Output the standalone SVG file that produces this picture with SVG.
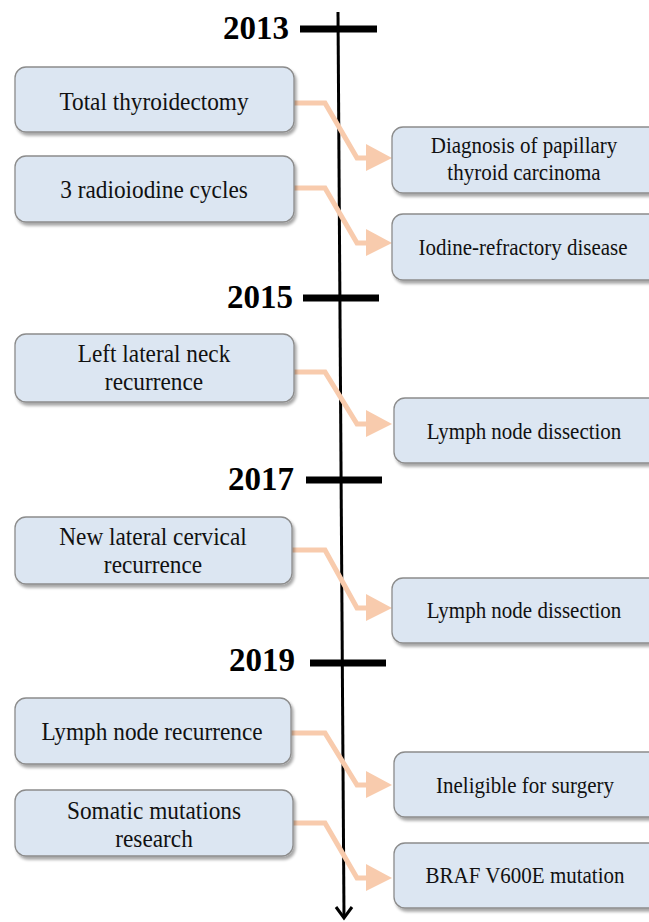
<svg xmlns="http://www.w3.org/2000/svg" width="649" height="922" viewBox="0 0 649 922">
<defs>
<filter id="sh" x="-10%" y="-10%" width="130%" height="140%">
<feGaussianBlur in="SourceAlpha" stdDeviation="1.5"/>
<feOffset dx="1.5" dy="2.5" result="b"/>
<feComponentTransfer><feFuncA type="linear" slope="0.35"/></feComponentTransfer>
<feMerge><feMergeNode/><feMergeNode in="SourceGraphic"/></feMerge>
</filter>
</defs>
<style>
.box{fill:#DCE6F2;stroke:#8C8C8C;stroke-width:1.3;filter:url(#sh)}
text.t{font-family:'Liberation Serif','Times New Roman',serif;font-size:23.3px;fill:#111;text-anchor:middle}
text.r{font-size:21px}
text.yr{font-family:'Liberation Serif','Times New Roman',serif;font-size:33px;font-weight:bold;fill:#000;text-anchor:end}
.tick{stroke:#000;stroke-width:7}
.con{fill:none;stroke:#F8CBAD;stroke-width:5;stroke-linejoin:miter}
.head{fill:#F8CBAD}
</style>
<g id="timeline">
<line x1="338" y1="12" x2="344" y2="917" stroke="#000" stroke-width="3"/>
<path d="M336,907 L344,918 L352,907" fill="none" stroke="#000" stroke-width="3"/>
<line class="tick" x1="300" y1="29" x2="377" y2="29"/>
<line class="tick" x1="303" y1="298" x2="379" y2="298"/>
<line class="tick" x1="306" y1="480" x2="382" y2="480"/>
<line class="tick" x1="310" y1="663" x2="386" y2="663"/>
<text class="yr" x="289" y="39">2013</text>
<text class="yr" x="293" y="308">2015</text>
<text class="yr" x="294" y="490">2017</text>
<text class="yr" x="295" y="671">2019</text>
</g>
<g id="connectors">
<path class="con" d="M294,103 H325 L357,158 H368"/><polygon class="head" points="366,144 392,158 366,171"/>
<path class="con" d="M294,188 H325 L357,243 H368"/><polygon class="head" points="366,229 392,243 366,256"/>
<path class="con" d="M294,372 H325 L357,424 H368"/><polygon class="head" points="366,410 392,424 366,437"/>
<path class="con" d="M292,550 H325 L357,608 H368"/><polygon class="head" points="366,594 392,608 366,621"/>
<path class="con" d="M291,733 H325 L357,785 H368"/><polygon class="head" points="366,771 392,785 366,798"/>
<path class="con" d="M293,823 H325 L357,878 H368"/><polygon class="head" points="366,864 392,878 366,891"/>
</g>
<g id="n1"><rect class="box" x="15" y="67" width="279" height="65" rx="11"/><text class="t" transform="matrix(1,0,0,1.1,154,110)">Total thyroidectomy</text></g>
<g id="n2"><rect class="box" x="15" y="156" width="279" height="66" rx="11"/><text class="t" transform="matrix(1,0,0,1.1,154,198)">3 radioiodine cycles</text></g>
<g id="n3"><rect class="box" x="15" y="334" width="279" height="68" rx="11"/><text class="t" transform="matrix(1,0,0,1.1,154,362)">Left lateral neck</text><text class="t" transform="matrix(1,0,0,1.1,154,390)">recurrence</text></g>
<g id="n4"><rect class="box" x="15" y="517" width="277" height="67" rx="11"/><text class="t" transform="matrix(1,0,0,1.1,153,545)">New lateral cervical</text><text class="t" transform="matrix(1,0,0,1.1,153,573)">recurrence</text></g>
<g id="n5"><rect class="box" x="15" y="698" width="276" height="66" rx="11"/><text class="t" transform="matrix(1,0,0,1.1,152,740)">Lymph node recurrence</text></g>
<g id="n6"><rect class="box" x="15" y="790" width="278" height="66" rx="11"/><text class="t" transform="matrix(1,0,0,1.1,154,819)">Somatic mutations</text><text class="t" transform="matrix(1,0,0,1.1,154,847)">research</text></g>
<g id="r1"><rect class="box" x="392" y="127" width="270" height="66" rx="11"/><text class="t r" transform="matrix(1,0,0,1.1,524,153)">Diagnosis of papillary</text><text class="t r" transform="matrix(1,0,0,1.1,524,180)">thyroid carcinoma</text></g>
<g id="r2"><rect class="box" x="392" y="214" width="270" height="66" rx="11"/><text class="t r" transform="matrix(1,0,0,1.1,523,255)">Iodine-refractory disease</text></g>
<g id="r3"><rect class="box" x="394" y="398" width="268" height="65" rx="11"/><text class="t r" transform="matrix(1,0,0,1.1,524,439)">Lymph node dissection</text></g>
<g id="r4"><rect class="box" x="392" y="578" width="270" height="65" rx="11"/><text class="t r" transform="matrix(1,0,0,1.1,524,618)">Lymph node dissection</text></g>
<g id="r5"><rect class="box" x="394" y="752" width="268" height="65" rx="11"/><text class="t r" transform="matrix(1,0,0,1.1,525,793)">Ineligible for surgery</text></g>
<g id="r6"><rect class="box" x="394" y="843" width="268" height="65" rx="11"/><text class="t r" transform="matrix(1,0,0,1.1,525,883)">BRAF V600E mutation</text></g>
</svg>
